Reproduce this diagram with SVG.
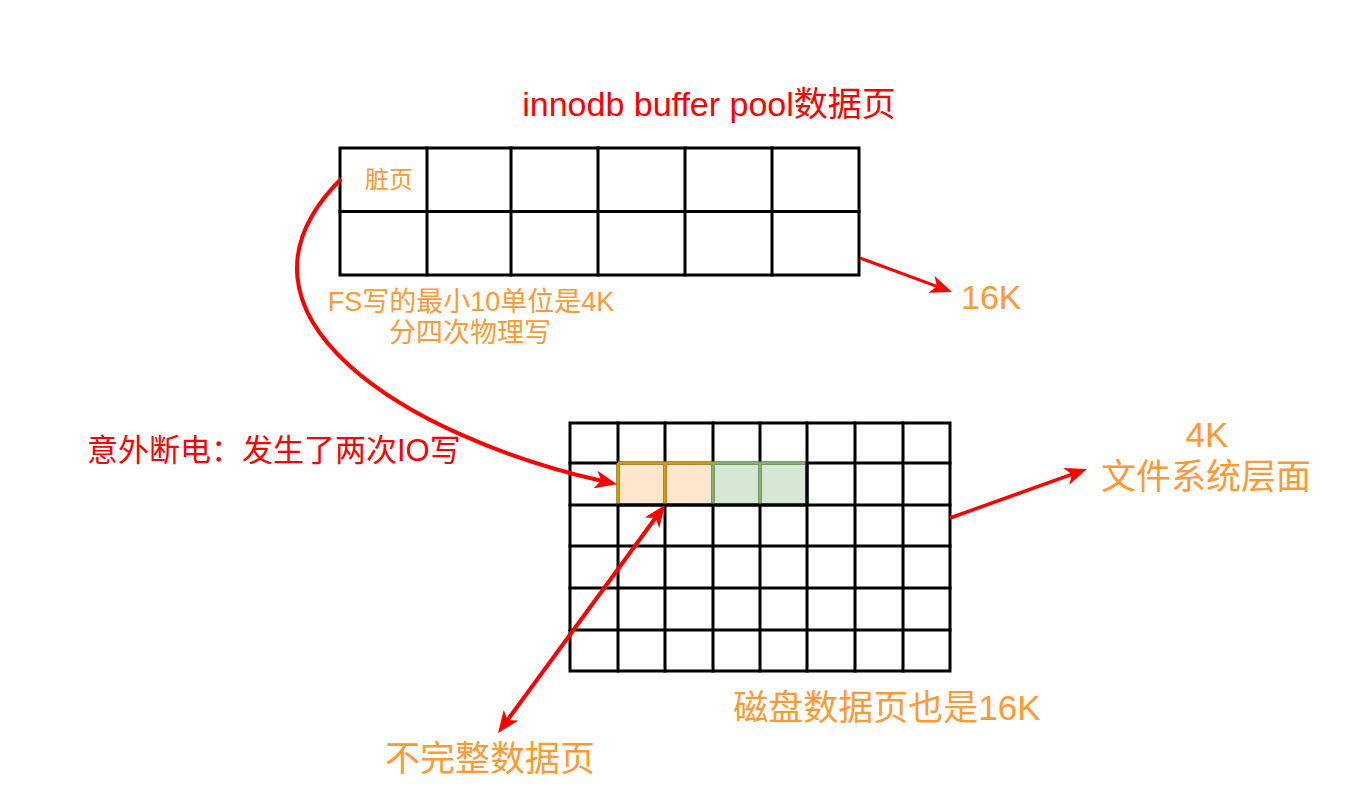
<svg xmlns="http://www.w3.org/2000/svg" width="1348" height="795" viewBox="0 0 1348 795">
<style>
.grid{fill:none;stroke:#000;stroke-width:3;stroke-linecap:square}
.t{font-family:"Liberation Sans","Noto Sans CJK SC",sans-serif}
.red{fill:#ff0000}
.org{fill:#ff9933}
.conn{fill:none;stroke:#ff0000;stroke-width:4}
</style>
<defs>
<marker id="ah" markerUnits="userSpaceOnUse" viewBox="0 0 22 18" markerWidth="22" markerHeight="18" refX="8" refY="9" orient="auto-start-reverse">
<path d="M0,0 L22,9 L0,18 L6,9 Z" fill="#ff0000"/>
</marker>
</defs>
<rect width="1348" height="795" fill="#fff"/>

<g id="title">
<text class="t red" x="709" y="116" font-size="34" text-anchor="middle">innodb buffer pool数据页</text>
</g>

<g id="buffer-pool-grid">
<rect class="grid" x="340" y="148" width="519" height="127"/>
<path class="grid" d="M340,211.5H859 M427,148V275 M511,148V275 M598,148V275 M685,148V275 M772,148V275"/>
<text class="t org" x="389" y="188" font-size="24" text-anchor="middle">脏页</text>
</g>

<g id="fs-label">
<text class="t org" x="471" y="311" font-size="27" text-anchor="middle">FS写的最小10单位是4K</text>
<text class="t org" x="470" y="342" font-size="27" text-anchor="middle">分四次物理写</text>
</g>

<g id="label-16k">
<text class="t org" x="961" y="309" font-size="34">16K</text>
</g>

<g id="power-off-label">
<text class="t red" x="87" y="461" font-size="31">意外断电：发生了两次IO写</text>
</g>

<g id="disk-grid">
<rect x="618" y="463" width="95" height="42" fill="#ffe6cc"/>
<rect x="713" y="463" width="94" height="42" fill="#d5e8d4"/>
<rect class="grid" x="570" y="423" width="380" height="248"/>
<path class="grid" d="M570,463H950 M570,505H950 M570,546H950 M570,588H950 M570,630H950 M618,423V671 M665,423V671 M713,423V671 M760,423V671 M807,423V671 M855,423V671 M903,423V671"/>
<path d="M618,463H713 M618,463V505 M665,463V505" fill="none" stroke="#d79b00" stroke-width="3"/>
<path d="M713,463H807 M713,463V505 M760,463V505" fill="none" stroke="#82b366" stroke-width="3"/>
<path class="grid" d="M618,505H807 M807,463V505"/>
</g>

<g id="label-4k">
<text class="t org" x="1207" y="447" font-size="35" text-anchor="middle">4K</text>
<text class="t org" x="1206" y="489" font-size="35" text-anchor="middle">文件系统层面</text>
</g>

<g id="incomplete-label">
<text class="t org" x="490" y="771" font-size="35" text-anchor="middle">不完整数据页</text>
</g>

<g id="disk-label">
<text class="t org" x="887" y="720" font-size="35" text-anchor="middle">磁盘数据页也是16K</text>
</g>

<g id="connectors">
<path class="conn" d="M341,179 C205,315 410,438 603.3,481.2" marker-end="url(#ah)"/>
<path class="conn" style="stroke-width:3" d="M860,258 L938.9,287.1" marker-end="url(#ah)"/>
<path class="conn" style="stroke-width:3.5" d="M950,518 L1073.8,473.7" marker-end="url(#ah)"/>
<path class="conn" d="M656.7,516.3 L506.3,721.7" marker-start="url(#ah)" marker-end="url(#ah)"/>
</g>
</svg>
